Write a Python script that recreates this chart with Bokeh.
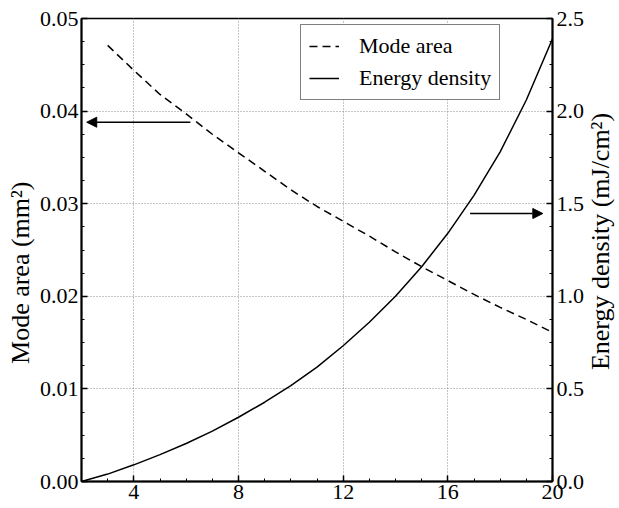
import math
from bokeh.plotting import figure
from bokeh.layouts import row
from bokeh.models import (LinearAxis, Range1d, Legend, LegendItem, Arrow, NormalHead,
                          FixedTicker, PrintfTickFormatter, Label)
from bokeh.embed import file_html
from bokeh.resources import INLINE

# ---- data ----
x_mode = [3, 4, 5, 6, 7, 8, 9, 10, 11, 12, 13, 14, 15, 16, 17, 18, 19, 20]
mode_area = [0.0471, 0.0444, 0.0418, 0.0397, 0.0375, 0.0355, 0.0335, 0.0315, 0.0297,
             0.0281, 0.0265, 0.0248, 0.0232, 0.0217, 0.0202, 0.0188, 0.0175, 0.0161]
x_energy = [2, 3, 4, 5, 6, 7, 8, 9, 10, 11, 12, 13, 14, 15, 16, 17, 18, 19, 20]
energy_density = [0.0, 0.04, 0.09, 0.145, 0.205, 0.272, 0.347, 0.428, 0.518, 0.618, 0.733,
                  0.86, 1.0, 1.16, 1.34, 1.545, 1.78, 2.06, 2.39]

x_ticks = [4, 8, 12, 16, 20]
left_ticks = [0.0, 0.01, 0.02, 0.03, 0.04, 0.05]
right_ticks = [0.0, 0.5, 1.0, 1.5, 2.0, 2.5]

left_title = "Mode area (mm²)" + "\u00a0" * 7
right_title = "Energy density (mJ/cm²)"

# arrow annotations (data coords)
left_arrow = dict(x_start=6.16, x_end=2.2, y=0.0388)
right_arrow = dict(x_start=16.85, x_end=19.63, y=1.447)

FONT = "'Liberation Serif', serif"
TICK_FONT = "Times New Roman"

p = figure(width=587, height=508, x_range=Range1d(2, 20), y_range=Range1d(0, 0.05),
           output_backend="svg", toolbar_location=None,
           min_border_left=81, min_border_right=34, min_border_top=18, min_border_bottom=27)
p.extra_y_ranges = {"energy": Range1d(0, 2.5)}
p.background_fill_color = "white"
p.border_fill_color = "white"
p.outline_line_color = "black"
p.outline_line_width = 1.5

# lines
r_mode = p.line(x_mode, mode_area, line_color="black", line_width=1.5, line_dash="8 5")
r_energy = p.line(x_energy, energy_density, line_color="black", line_width=1.5,
                  y_range_name="energy")

# axes
right = LinearAxis(y_range_name="energy")
p.add_layout(right, "right")

xa = p.xaxis[0]
ya = p.yaxis[0]
ya.axis_label = left_title

xa.ticker = FixedTicker(ticks=x_ticks, minor_ticks=list(range(2, 21)))
xa.formatter = PrintfTickFormatter(format="%d")
ya.ticker = FixedTicker(ticks=left_ticks, minor_ticks=[i * 0.0025 for i in range(21)])
ya.formatter = PrintfTickFormatter(format="%.2f")
right.ticker = FixedTicker(ticks=right_ticks, minor_ticks=[i * 0.125 for i in range(21)])
right.formatter = PrintfTickFormatter(format="%.1f")

for ax in (xa, ya, right):
    ax.major_tick_in = 6
    ax.major_tick_out = 0
    ax.minor_tick_in = 3
    ax.minor_tick_out = 0
    ax.axis_line_width = 2
    ax.axis_line_color = "black"
    ax.major_tick_line_width = 1.5
    ax.minor_tick_line_width = 1
    ax.major_label_text_font = TICK_FONT
    ax.major_label_text_font_size = "22px"
    ax.major_label_text_color = "black"
    ax.axis_label_text_font = FONT
    ax.axis_label_text_font_size = "26px"
    ax.axis_label_text_font_style = "normal"
    ax.axis_label_text_color = "black"

xa.major_label_standoff = 3
ya.major_label_standoff = 3
right.major_label_standoff = 4
ya.axis_label_standoff = 2

# grids
p.xgrid.ticker = FixedTicker(ticks=[4, 8, 12, 16])
p.ygrid.ticker = FixedTicker(ticks=[0.01, 0.02, 0.03, 0.04])
for g in (p.xgrid, p.ygrid):
    g.grid_line_color = "#8a8a8a"
    g.grid_line_dash = "1 2"
    g.grid_line_width = 1

# legend
legend = Legend(items=[LegendItem(label="Mode area", renderers=[r_mode]),
                       LegendItem(label="Energy density", renderers=[r_energy])],
                location=(219, 381), border_line_color="black", border_line_width=1.2,
                background_fill_color="white", background_fill_alpha=1.0,
                label_text_font=FONT, label_text_font_size="22px", label_text_color="black",
                glyph_width=30, glyph_height=24, label_height=24, label_standoff=20,
                padding=8, spacing=6, margin=0)
p.add_layout(legend)

# arrows
p.add_layout(Arrow(end=NormalHead(size=10, fill_color="black", line_color="black"),
                   x_start=left_arrow["x_start"], y_start=left_arrow["y"],
                   x_end=left_arrow["x_end"], y_end=left_arrow["y"],
                   line_color="black", line_width=1.5))
p.add_layout(Arrow(end=NormalHead(size=10, fill_color="black", line_color="black"),
                   x_start=right_arrow["x_start"], y_start=right_arrow["y"],
                   x_end=right_arrow["x_end"], y_end=right_arrow["y"],
                   y_range_name="energy", line_color="black", line_width=1.5))

# narrow strip on the right carrying the right-axis title (reads bottom-to-top)
p2 = figure(width=32, height=508, x_range=Range1d(0, 1), y_range=Range1d(0, 1),
            output_backend="svg", toolbar_location=None, min_border=0)
p2.xaxis.visible = False
p2.yaxis.visible = False
p2.xgrid.visible = False
p2.ygrid.visible = False
p2.outline_line_color = None
p2.background_fill_color = "white"
p2.border_fill_color = "white"
p2.add_layout(Label(x=13, y=240, x_units="screen", y_units="screen", angle=math.pi / 2,
                    text=right_title, text_font=FONT, text_font_size="26px",
                    text_color="black", text_align="center", text_baseline="middle"))

layout = row(p, p2, spacing=0)
open("out.html", "w").write(file_html(layout, INLINE))
